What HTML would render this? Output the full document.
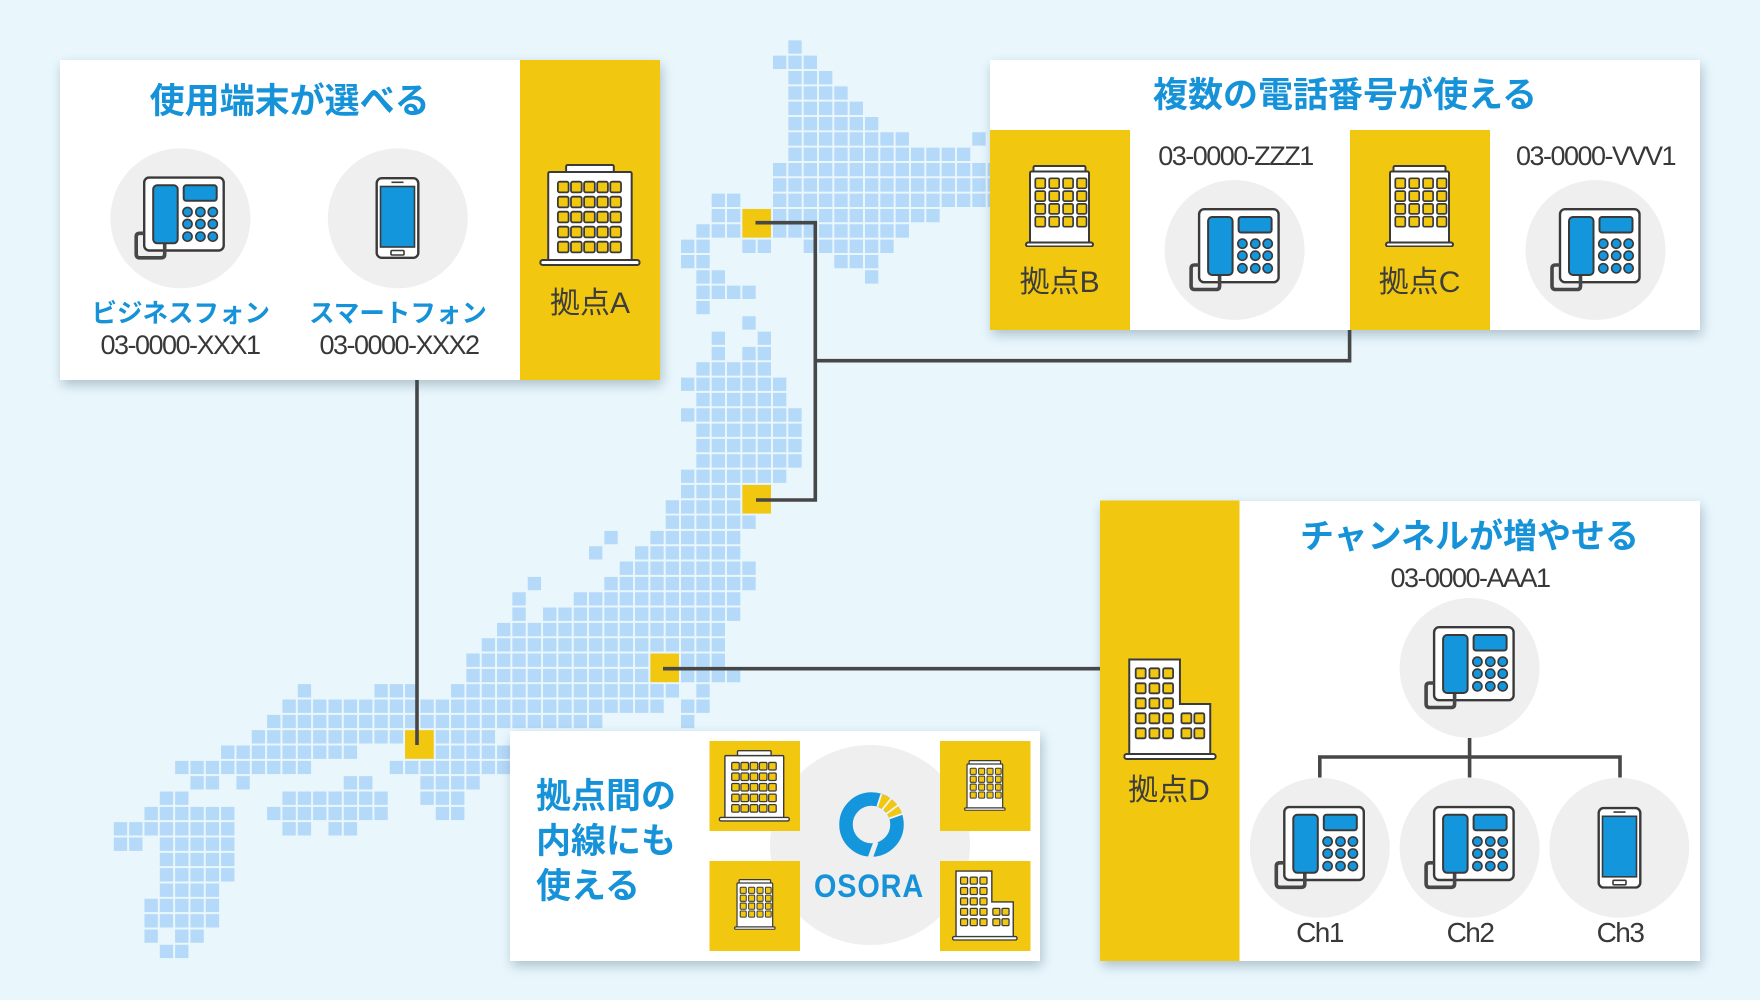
<!DOCTYPE html>
<html><head><meta charset="utf-8">
<style>
html,body{margin:0;padding:0;width:1760px;height:1000px;overflow:hidden;background:#e9f7fd;}
#root{position:relative;width:1760px;height:1000px;overflow:hidden;}
.abs{position:absolute;left:0;top:0;}
.panel{position:absolute;background:#fff;box-shadow:2px 5px 11px rgba(50,80,100,0.32);}
.t{position:absolute;white-space:nowrap;transform:translateX(-50%);font-family:"Liberation Sans","Noto Sans CJK JP",sans-serif;}
.title{font-weight:700;color:#1592d8;font-size:35px;line-height:35px;}
.lbl{font-weight:700;color:#1592d8;font-size:25.5px;line-height:26px;}
.num{color:#383838;font-size:27px;line-height:27px;letter-spacing:-1.5px;}
.base{color:#3d3d3d;font-size:30px;line-height:30px;}
.ch{color:#383838;font-size:28px;line-height:28px;letter-spacing:-1.5px;}
</style></head>
<body><div id="root">

<svg class="abs" width="1760" height="1000" viewBox="0 0 1760 1000">
<g transform="translate(5.5 8.67) scale(15.33)">
<path fill="none" stroke="#b5d9f8" stroke-width="0.87" stroke-dasharray="0.87 0.13" d="
M51.065 2.5H51.935
M50.065 3.5H52.935
M51.065 4.5H53.935
M51.065 5.5H54.935
M51.065 6.5H55.935
M51.065 7.5H56.935
M51.065 8.5H58.935 M63.065 8.5H63.935
M51.065 9.5H62.935
M50.065 10.5H64.935
M50.065 11.5H64.935
M46.065 12.5H47.935 M50.065 12.5H64.935
M46.065 13.5H47.935 M50.065 13.5H60.935
M45.065 14.5H47.935 M50.065 14.5H58.935
M44.065 15.5H45.935 M48.065 15.5H49.935 M52.065 15.5H57.935
M44.065 16.5H45.935 M54.065 16.5H56.935
M45.065 17.5H46.935 M56.065 17.5H56.935
M45.065 18.5H48.935
M45.065 19.5H45.935
M48.065 20.5H48.935
M46.065 21.5H46.935 M49.065 21.5H49.935
M46.065 22.5H46.935 M48.065 22.5H49.935
M45.065 23.5H49.935
M44.065 24.5H50.935
M45.065 25.5H50.935
M44.065 26.5H51.935
M45.065 27.5H51.935
M45.065 28.5H51.935
M45.065 29.5H51.935
M44.065 30.5H50.935
M44.065 31.5H47.935
M43.065 32.5H47.935
M43.065 33.5H48.935
M39.065 34.5H39.935 M42.065 34.5H47.935
M38.065 35.5H38.935 M41.065 35.5H47.935
M40.065 36.5H48.935
M34.065 37.5H34.935 M39.065 37.5H48.935
M33.065 38.5H33.935 M37.065 38.5H47.935
M33.065 39.5H33.935 M35.065 39.5H47.935
M32.065 40.5H46.935
M31.065 41.5H46.935
M30.065 42.5H41.935 M44.065 42.5H46.935
M30.065 43.5H41.935 M44.065 43.5H47.935
M19.065 44.5H19.935 M24.065 44.5H26.935 M29.065 44.5H43.935 M45.065 44.5H45.935
M18.065 45.5H42.935 M44.065 45.5H45.935
M17.065 46.5H38.935 M44.065 46.5H44.935
M16.065 47.5H25.935 M28.065 47.5H31.935
M14.065 48.5H22.935 M28.065 48.5H32.935
M11.065 49.5H19.935 M25.065 49.5H32.935
M12.065 50.5H13.935 M15.065 50.5H15.935 M22.065 50.5H23.935 M27.065 50.5H30.935
M10.065 51.5H11.935 M18.065 51.5H24.935 M27.065 51.5H29.935
M9.065 52.5H14.935 M17.065 52.5H24.935 M28.065 52.5H29.935
M7.065 53.5H14.935 M18.065 53.5H19.935 M21.065 53.5H22.935
M7.065 54.5H8.935 M10.065 54.5H14.935
M10.065 55.5H14.935
M10.065 56.5H14.935
M10.065 57.5H13.935
M9.065 58.5H13.935
M9.065 59.5H13.935
M9.065 60.5H9.935 M11.065 60.5H12.935
M10.065 61.5H11.935"/>
<g fill="#f1c710">
<rect x="48.065" y="13.065" width="1.87" height="1.87"/>
<rect x="48.065" y="31.065" width="1.87" height="1.87"/>
<rect x="42.065" y="42.065" width="1.87" height="1.87"/>
<rect x="26.065" y="47.065" width="1.87" height="1.87"/>
</g>
</g>
<g fill="none" stroke="#474747" stroke-width="3.6">
<path d="M417 380 V745"/>
<path d="M755.5 222.7 H815.3 V500 H756"/>
<path d="M815.3 360.7 H1349.6 V330"/>
<path d="M663 668.7 H1100"/>
</g>
</svg>

<div class="panel" style="left:59.5px;top:60px;width:600.5px;height:320px"></div>
<div class="panel" style="left:990px;top:60px;width:709.5px;height:270px"></div>
<div class="panel" style="left:510px;top:731px;width:530px;height:230px"></div>
<div class="panel" style="left:1100px;top:500.5px;width:599.5px;height:460.5px"></div>

<svg class="abs" width="1760" height="1000" viewBox="0 0 1760 1000">
<defs>
<symbol id="phone" viewBox="0 0 92 84">
  <rect x="10.5" y="1.2" width="79.5" height="73" rx="5" fill="#fff" stroke="#3a3a3a" stroke-width="2.4"/>
  <path d="M31 66 V78 Q31 81.5 27.5 81.5 H6 Q2.5 81.5 2.5 78 V60.5 Q2.5 57 6 57 H10.5" fill="none" stroke="#474747" stroke-width="3.6"/>
  <rect x="19.5" y="9" width="24.5" height="58" rx="4" fill="#1496dc" stroke="#3a3a3a" stroke-width="2"/>
  <rect x="50" y="9" width="33" height="15.5" rx="2.5" fill="#1496dc" stroke="#3a3a3a" stroke-width="2"/>
  <g fill="#1496dc" stroke="#3a3a3a" stroke-width="1.6">
    <circle cx="53.8" cy="35.7" r="4.6"/><circle cx="66.7" cy="35.7" r="4.6"/><circle cx="79.1" cy="35.7" r="4.6"/>
    <circle cx="53.8" cy="47.7" r="4.6"/><circle cx="66.7" cy="47.7" r="4.6"/><circle cx="79.1" cy="47.7" r="4.6"/>
    <circle cx="53.8" cy="60.3" r="4.6"/><circle cx="66.7" cy="60.3" r="4.6"/><circle cx="79.1" cy="60.3" r="4.6"/>
  </g>
</symbol>
<symbol id="smart" viewBox="0 0 44 82">
  <rect x="1.2" y="1.2" width="41.6" height="79.6" rx="5" fill="#fff" stroke="#3a3a3a" stroke-width="2.4"/>
  <rect x="5" y="9.5" width="34" height="60.5" fill="#1496dc" stroke="#3a3a3a" stroke-width="1.6"/>
  <line x1="16" y1="5.3" x2="28" y2="5.3" stroke="#3a3a3a" stroke-width="1.6"/>
  <rect x="15.5" y="73.5" width="13" height="4.5" rx="1" fill="#fff" stroke="#3a3a3a" stroke-width="1.6"/>
</symbol>
<symbol id="bldA" viewBox="0 0 102 102" preserveAspectRatio="none">
  <rect x="27" y="1" width="48" height="9" rx="1.5" fill="#fff" stroke="#3a3a3a" stroke-width="2"/>
  <rect x="9" y="8" width="84" height="90" rx="1.5" fill="#fff" stroke="#3a3a3a" stroke-width="2"/>
  <g fill="#f1c710" stroke="#3a3a3a" stroke-width="1.8">
    <rect x="18.7" y="17.7" width="10.8" height="10.7" rx="1.8"/><rect x="31.9" y="17.7" width="10.8" height="10.7" rx="1.8"/><rect x="45.1" y="17.7" width="10.8" height="10.7" rx="1.8"/><rect x="58.3" y="17.7" width="10.8" height="10.7" rx="1.8"/><rect x="71.5" y="17.7" width="10.8" height="10.7" rx="1.8"/>
    <rect x="18.7" y="32.7" width="10.8" height="10.7" rx="1.8"/><rect x="31.9" y="32.7" width="10.8" height="10.7" rx="1.8"/><rect x="45.1" y="32.7" width="10.8" height="10.7" rx="1.8"/><rect x="58.3" y="32.7" width="10.8" height="10.7" rx="1.8"/><rect x="71.5" y="32.7" width="10.8" height="10.7" rx="1.8"/>
    <rect x="18.7" y="47.7" width="10.8" height="10.7" rx="1.8"/><rect x="31.9" y="47.7" width="10.8" height="10.7" rx="1.8"/><rect x="45.1" y="47.7" width="10.8" height="10.7" rx="1.8"/><rect x="58.3" y="47.7" width="10.8" height="10.7" rx="1.8"/><rect x="71.5" y="47.7" width="10.8" height="10.7" rx="1.8"/>
    <rect x="18.7" y="62.7" width="10.8" height="10.7" rx="1.8"/><rect x="31.9" y="62.7" width="10.8" height="10.7" rx="1.8"/><rect x="45.1" y="62.7" width="10.8" height="10.7" rx="1.8"/><rect x="58.3" y="62.7" width="10.8" height="10.7" rx="1.8"/><rect x="71.5" y="62.7" width="10.8" height="10.7" rx="1.8"/>
    <rect x="18.7" y="77.7" width="10.8" height="10.7" rx="1.8"/><rect x="31.9" y="77.7" width="10.8" height="10.7" rx="1.8"/><rect x="45.1" y="77.7" width="10.8" height="10.7" rx="1.8"/><rect x="58.3" y="77.7" width="10.8" height="10.7" rx="1.8"/><rect x="71.5" y="77.7" width="10.8" height="10.7" rx="1.8"/>
  </g>
  <rect x="1" y="96" width="100" height="5" rx="2.5" fill="#fff" stroke="#3a3a3a" stroke-width="2"/>
</symbol>
<symbol id="bldM" viewBox="0 0 69 82" preserveAspectRatio="none">
  <rect x="8.5" y="1" width="52" height="7" rx="1.5" fill="#fff" stroke="#3a3a3a" stroke-width="2"/>
  <rect x="5" y="6.5" width="59" height="73" rx="1.5" fill="#fff" stroke="#3a3a3a" stroke-width="2"/>
  <g fill="#f1c710" stroke="#3a3a3a" stroke-width="1.7">
    <rect x="10.3" y="13.3" width="10" height="10" rx="1.6"/><rect x="24.2" y="13.3" width="10" height="10" rx="1.6"/><rect x="38.1" y="13.3" width="10" height="10" rx="1.6"/><rect x="52" y="13.3" width="9.5" height="10" rx="1.6"/>
    <rect x="10.3" y="26.1" width="10" height="10" rx="1.6"/><rect x="24.2" y="26.1" width="10" height="10" rx="1.6"/><rect x="38.1" y="26.1" width="10" height="10" rx="1.6"/><rect x="52" y="26.1" width="9.5" height="10" rx="1.6"/>
    <rect x="10.3" y="38.9" width="10" height="10" rx="1.6"/><rect x="24.2" y="38.9" width="10" height="10" rx="1.6"/><rect x="38.1" y="38.9" width="10" height="10" rx="1.6"/><rect x="52" y="38.9" width="9.5" height="10" rx="1.6"/>
    <rect x="10.3" y="51.7" width="10" height="10" rx="1.6"/><rect x="24.2" y="51.7" width="10" height="10" rx="1.6"/><rect x="38.1" y="51.7" width="10" height="10" rx="1.6"/><rect x="52" y="51.7" width="9.5" height="10" rx="1.6"/>
  </g>
  <rect x="1" y="77.5" width="67" height="4" rx="2" fill="#fff" stroke="#3a3a3a" stroke-width="2"/>
</symbol>
<symbol id="bldL" viewBox="0 0 94 102" preserveAspectRatio="none">
  <path d="M6 98 V1.5 H57 V46 H87.5 V98 Z" fill="#fff" stroke="#3a3a3a" stroke-width="2"/>
  <g fill="#f1c710" stroke="#3a3a3a" stroke-width="1.8">
    <rect x="12.5" y="10.3" width="10" height="10" rx="1.6"/><rect x="26.3" y="10.3" width="10" height="10" rx="1.6"/><rect x="40.1" y="10.3" width="10" height="10" rx="1.6"/>
    <rect x="12.5" y="25.3" width="10" height="10" rx="1.6"/><rect x="26.3" y="25.3" width="10" height="10" rx="1.6"/><rect x="40.1" y="25.3" width="10" height="10" rx="1.6"/>
    <rect x="12.5" y="40.3" width="10" height="10" rx="1.6"/><rect x="26.3" y="40.3" width="10" height="10" rx="1.6"/><rect x="40.1" y="40.3" width="10" height="10" rx="1.6"/>
    <rect x="12.5" y="55.3" width="10" height="10" rx="1.6"/><rect x="26.3" y="55.3" width="10" height="10" rx="1.6"/><rect x="40.1" y="55.3" width="10" height="10" rx="1.6"/>
    <rect x="12.5" y="70.3" width="10" height="10" rx="1.6"/><rect x="26.3" y="70.3" width="10" height="10" rx="1.6"/><rect x="40.1" y="70.3" width="10" height="10" rx="1.6"/>
    <rect x="58.5" y="55.3" width="10" height="10" rx="1.6"/><rect x="71.5" y="55.3" width="10" height="10" rx="1.6"/>
    <rect x="58.5" y="70.3" width="10" height="10" rx="1.6"/><rect x="71.5" y="70.3" width="10" height="10" rx="1.6"/>
  </g>
  <rect x="1" y="96" width="92" height="5" rx="2.5" fill="#fff" stroke="#3a3a3a" stroke-width="2"/>
</symbol>
</defs>

<!-- yellow strips -->
<g fill="#f1c710">
<rect x="520" y="60" width="140" height="320"/>
<rect x="990" y="130" width="140" height="200"/>
<rect x="1350" y="130" width="140" height="200"/>
<rect x="1100" y="500.5" width="139.5" height="460.5"/>
</g>

<!-- gray circles -->
<g fill="#efefef">
<circle cx="180.4" cy="218.3" r="70"/>
<circle cx="397.8" cy="218.3" r="70"/>
<circle cx="1234.6" cy="250" r="70"/>
<circle cx="1595.5" cy="250" r="70"/>
<circle cx="1469.6" cy="668" r="70"/>
<circle cx="1319.8" cy="847.8" r="70"/>
<circle cx="1469.6" cy="847.8" r="70"/>
<circle cx="1619.3" cy="847.8" r="70"/>
<circle cx="870" cy="845" r="100"/>
</g>

<!-- 拠点間 yellow squares -->
<g fill="#f1c710">
<rect x="709.5" y="741" width="90.5" height="90"/>
<rect x="940" y="741" width="90.5" height="90"/>
<rect x="709.5" y="861" width="90.5" height="90"/>
<rect x="940" y="861" width="90.5" height="90"/>
</g>

<!-- tree lines panel D -->
<path d="M1469.6 738 V757 M1319.8 777.5 V757 H1620 V777.5 M1469.6 757 V777.5" fill="none" stroke="#474747" stroke-width="3.6"/>

<!-- phones -->
<use href="#phone" x="133.7" y="176.3" width="92" height="84"/>
<use href="#smart" x="375.5" y="177" width="44" height="82"/>
<use href="#phone" x="1188.6" y="208" width="92" height="84"/>
<use href="#phone" x="1549.5" y="208" width="92" height="84"/>
<use href="#phone" x="1423.6" y="626" width="92" height="84"/>
<use href="#phone" x="1273.8" y="805.8" width="92" height="84"/>
<use href="#phone" x="1423.6" y="805.8" width="92" height="84"/>
<use href="#smart" x="1597.5" y="806.8" width="44" height="82"/>

<!-- buildings -->
<use href="#bldA" x="539.3" y="164" width="101.3" height="102"/>
<use href="#bldA" x="718.6" y="750" width="71.4" height="71.7"/>
<use href="#bldM" x="1025" y="165" width="69" height="82"/>
<use href="#bldM" x="1385" y="165" width="69" height="82"/>
<use href="#bldM" x="964" y="760" width="41.7" height="50.7"/>
<use href="#bldM" x="734" y="879" width="41.7" height="50.7"/>
<use href="#bldL" x="1123.3" y="658" width="93.4" height="102"/>
<use href="#bldL" x="951.8" y="870" width="66" height="70.7"/>

<!-- OSORA logo -->
<circle cx="871.5" cy="824.5" r="25.5" fill="none" stroke="#1496dc" stroke-width="13.5"/>
<path d="M879.4 800.25 A25.5 25.5 0 0 1 895.5 815.8" fill="none" stroke="#f1c710" stroke-width="13.5"/>
<g stroke="#f3f3f3" stroke-width="1.8">
<line x1="877.3" y1="806.7" x2="881.4" y2="794"/>
<line x1="882.3" y1="809.6" x2="892.1" y2="797.3"/>
<line x1="886.3" y1="813.8" x2="898.9" y2="804.6"/>
<line x1="889.2" y1="818.5" x2="902.9" y2="813.7"/>
</g>
<line x1="876" y1="842" x2="870" y2="858.5" stroke="#efefef" stroke-width="5"/>
</svg>

<!-- Panel A text -->
<div class="t title" style="left:289.6px;top:83.5px">使用端末が選べる</div>
<div class="t lbl" style="left:180.8px;top:300.5px">ビジネスフォン</div>
<div class="t num" style="left:180px;top:331.5px">03-0000-XXX1</div>
<div class="t lbl" style="left:398px;top:300.5px">スマートフォン</div>
<div class="t num" style="left:399px;top:331.5px">03-0000-XXX2</div>
<div class="t base" style="left:590px;top:289px">拠点A</div>

<!-- Panel BC text -->
<div class="t title" style="left:1345px;top:77.5px">複数の電話番号が使える</div>
<div class="t num" style="left:1235.5px;top:142.5px">03-0000-ZZZ1</div>
<div class="t num" style="left:1595.5px;top:142.5px">03-0000-VVV1</div>
<div class="t base" style="left:1059.6px;top:268px">拠点B</div>
<div class="t base" style="left:1419.6px;top:268px">拠点C</div>

<!-- Panel D text -->
<div class="t title" style="left:1469.5px;top:519.7px;font-size:34px;line-height:34px">チャンネルが増やせる</div>
<div class="t num" style="left:1470px;top:564.5px">03-0000-AAA1</div>
<div class="t base" style="left:1169px;top:776px">拠点D</div>
<div class="t ch" style="left:1319.5px;top:918.5px">Ch1</div>
<div class="t ch" style="left:1470px;top:918.5px">Ch2</div>
<div class="t ch" style="left:1620px;top:918.5px">Ch3</div>

<!-- Panel 拠点間 text -->
<div style="position:absolute;left:536px;top:774px;font-family:'Liberation Sans','Noto Sans CJK JP',sans-serif;font-weight:700;color:#1592d8;font-size:35px;line-height:45px;white-space:nowrap">拠点間の<br>内線にも<br>使える</div>
<div class="t" style="left:869.3px;top:869.6px;font-weight:700;color:#1592d8;font-size:32px;line-height:32px;letter-spacing:1px;transform:translateX(-50%) scaleX(0.9)">OSORA</div>

</div></body></html>
